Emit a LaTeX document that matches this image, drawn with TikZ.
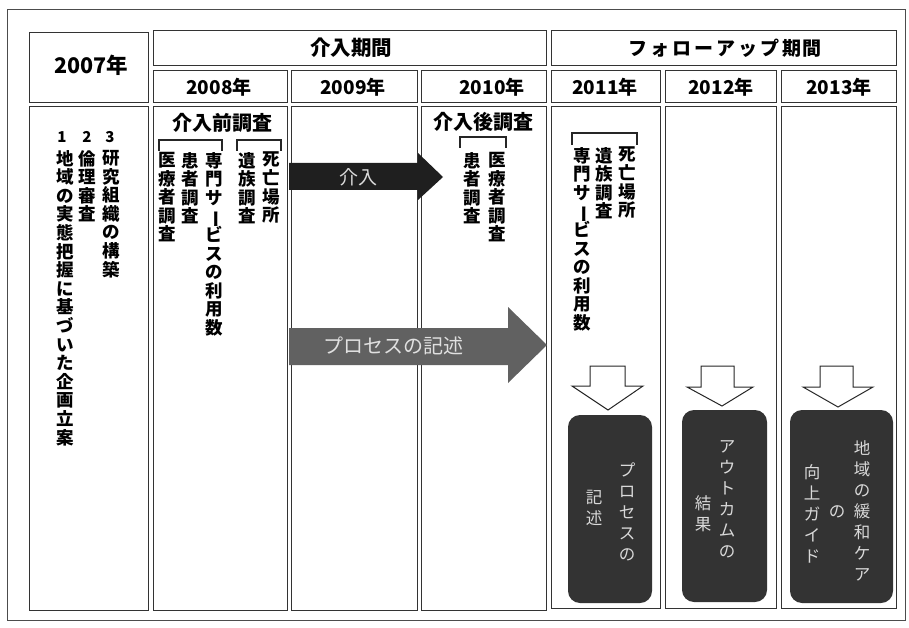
\documentclass[tikz,border=0pt]{standalone}
\usepackage{fontspec}
\usepackage{graphicx}
\setmainfont{Noto Sans CJK JP}
\makeatletter
\newlength\vtskip \setlength\vtskip{18.6pt}
\newcommand\vtext[1]{\vbox{\baselineskip=\vtskip\lineskiplimit=-100pt\lineskip=0pt\relax\vt@loop#1\@nil}}
\def\vt@loop#1{\ifx#1\@nil\else\hbox to 1em{\hss\vt@char#1\hss}\expandafter\vt@loop\fi}
\def\vt@char#1{\ifx#1ー\rotatebox[origin=c]{-90}{ー}\else#1\fi}
\makeatother
\tikzset{
  cell/.style={draw=black!80, line width=0.9pt},
  hdr/.style={inner sep=0pt, font=\bfseries\fontsize{19}{22}\selectfont},
  vcol/.style={anchor=north, inner sep=0pt, font=\bfseries\fontsize{17.5}{18}\selectfont},
  num/.style={inner sep=0pt, font=\bfseries\fontsize{15}{16}\selectfont},
  brk/.style={draw=black!85, line width=1.2pt},
  darkbox/.style={fill=black!80, rounded corners=12pt},
  boxtxt/.style={inner sep=0pt, text=white!85!black, font=\fontsize{16.5}{18}\selectfont\setlength\vtskip{21pt}},
  hollow/.style={draw=black!85, fill=white, line width=1pt, line join=miter},
}
\begin{document}
\begin{tikzpicture}[x=1pt,y=-1pt]
\useasboundingbox (0,0) rectangle (909,628);
% outer frame
\draw[draw=black!70, line width=0.7pt] (7,9) rectangle (905,620);
% header cells
\draw[cell] (29,32) rectangle (148,102);
\draw[cell] (153,30) rectangle (546,65);
\draw[cell] (551,30) rectangle (896,65);
\draw[cell] (153,70) rectangle (287,102);
\draw[cell] (291,70) rectangle (417,102);
\draw[cell] (421,70) rectangle (546,102);
\draw[cell] (551,70) rectangle (660,102);
\draw[cell] (665,70) rectangle (776,102);
\draw[cell] (781,70) rectangle (896,102);
% body cells
\draw[cell] (29,106) rectangle (148,610);
\draw[cell] (153,106) rectangle (287,610);
\draw[cell] (291,106) rectangle (417,610);
\draw[cell] (421,106) rectangle (546,610);
\draw[cell] (551,106) rectangle (660,608);
\draw[cell] (665,106) rectangle (776,608);
\draw[cell] (781,106) rectangle (896,608);
% header texts
\node[hdr, font=\bfseries\fontsize{21.5}{24}\selectfont] (y07) at (91,65) {2007年};
\node[hdr, font=\bfseries\fontsize{20.5}{24}\selectfont] (p1) at (351,48) {介入期間};
\node[hdr] (p2) at (725,48) {フ\kern3ptォ\kern3ptロ\kern3ptー\kern3ptア\kern3ptッ\kern3ptプ\kern3pt期\kern1pt間};
\node[hdr] (y08) at (219,87) {2008年};
\node[hdr] (y09) at (353,87) {2009年};
\node[hdr] (y10) at (492,87) {2010年};
\node[hdr] (y11) at (605,87) {2011年};
\node[hdr] (y12) at (721,87) {2012年};
\node[hdr] (y13) at (839,87) {2013年};
% 2007 column
\node[num] (n1) at (62,137) {1};
\node[num] (n2) at (87,137) {2};
\node[num] (n3) at (110,137) {3};
\node[vcol] (t1) at (65,150) {\vtext{地域の実態把握に基づいた企画立案}};
\node[vcol] (t2) at (87,150) {\vtext{倫理審査}};
\node[vcol] (t3) at (111,150) {\vtext{研究組織の構築}};
% 2008 column
\node[hdr, font=\bfseries\fontsize{20}{22}\selectfont] (pre) at (222,123) {介入前調査};
\draw[brk] (159,151) -- (159,140) -- (222,140) -- (222,151);
\draw[brk] (237,151) -- (237,140) -- (281,140) -- (281,151);
\node[vcol] (a1) at (167,152) {\vtext{医療者調査}};
\node[vcol] (a2) at (190,152) {\vtext{患者調査}};
\node[vcol] (a3) at (214,152) {\vtext{専門サービスの利用数}};
\node[vcol] (a4) at (247,152) {\vtext{遺族調査}};
\node[vcol] (a5) at (271,152) {\vtext{死亡場所}};
% 2010 column
\node[hdr, font=\bfseries\fontsize{20}{22}\selectfont] (post) at (483,122) {介入後調査};
\draw[brk] (460,148) -- (460,137) -- (506,137) -- (506,148);
\node[vcol] (b1) at (472,152) {\vtext{患者調査}};
\node[vcol] (b2) at (497,152) {\vtext{医療者調査}};
% 2011 column
\draw[brk] (572,145) -- (572,133) -- (637,133) -- (637,145);
\node[vcol] (c1) at (582,147) {\vtext{専門サービスの利用数}};
\node[vcol] (c2) at (604,147) {\vtext{遺族調査}};
\node[vcol] (c3) at (627,147) {\vtext{死亡場所}};
% intervention arrow
\fill[black!88] (289,163) -- (418,163) -- (418,153) -- (443,177) -- (418,200) -- (418,190) -- (289,190) -- cycle;
\node[inner sep=0pt, text=white!85!black, font=\fontsize{19}{20}\selectfont] (kainyu) at (358,177) {介入};
% process arrow
\fill[black!62] (289,328) -- (508,328) -- (508,307) -- (547,345) -- (508,383) -- (508,365) -- (289,365) -- cycle;
\node[inner sep=0pt, text=white!88!black, font=\fontsize{20}{22}\selectfont] (proc) at (393,346) {プロセスの記述};
% hollow down arrows
\draw[hollow] (590,366) -- (625,366) -- (625,386) -- (643,386) -- (608,410) -- (572,386) -- (590,386) -- cycle;
\draw[hollow] (701,366) -- (734,366) -- (734,387) -- (753,387) -- (722,406) -- (687,387) -- (701,387) -- cycle;
\draw[hollow] (820,366) -- (853,366) -- (853,387) -- (873,387) -- (838,407) -- (803,387) -- (820,387) -- cycle;
% dark result boxes
\fill[darkbox] (568,415) rectangle (652,603);
\fill[darkbox] (682,410) rectangle (767,602);
\fill[darkbox] (790,410) rectangle (893,603);
\node[boxtxt] (r1a) at (627,512) {\vtext{プロセスの}};
\node[boxtxt] (r1b) at (594,508) {\vtext{記述}};
\node[boxtxt] (r2a) at (727,499) {\vtext{アウトカムの}};
\node[boxtxt] (r2b) at (703,514) {\vtext{結果}};
\node[boxtxt] (r3a) at (862,511) {\vtext{地域の緩和ケア}};
\node[boxtxt] (r3b) at (837,512) {\vtext{の}};
\node[boxtxt] (r3c) at (812,514) {\vtext{向上ガイド}};
\end{tikzpicture}
\end{document}
